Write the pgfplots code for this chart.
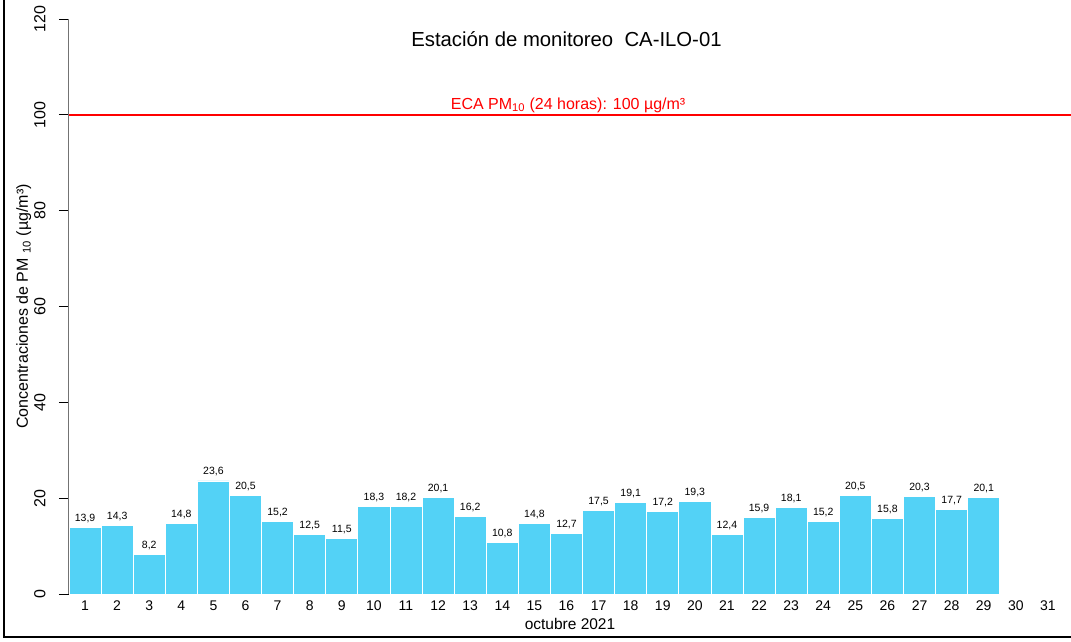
\documentclass[border=0pt]{standalone}
\usepackage{fontspec}
\setmainfont{Liberation Sans}
\usepackage{pgfplots}
\pgfplotsset{compat=1.18}
\definecolor{barblue}{RGB}{83,210,246}
\begin{document}
\begin{tikzpicture}[x=1pt,y=1pt]
\useasboundingbox (0,0) rectangle (1071,641);
\draw[line width=2.5pt] (4,650) -- (4,4) -- (1080,4);
\begin{axis}[
 at={(69pt,47pt)}, anchor=south west,
 scale only axis, width=1002pt, height=575pt,
 xmin=0.5, xmax=31.72, ymin=0, ymax=120,
 axis x line*=bottom, axis y line*=left,
 x axis line style={draw=none}, y axis line style={gray!90!black, line width=1pt, -},
 axis on top,
 xtick={1,...,31}, xtick style={draw=none},
 ytick={0,20,...,120}, ytick style={black, line width=0.8pt},
 major tick length=10pt, tick align=outside,
 yticklabel shift=10pt, xticklabel shift=-7pt,
 /pgf/number format/assume math mode=true,
 yticklabel style={rotate=90, anchor=south, font=\fontsize{16}{16}\selectfont},
 xticklabel style={font=\fontsize{14}{14}\selectfont},
 xlabel={octubre 2021}, xlabel style={font=\fontsize{15.5}{15.5}\selectfont, yshift=-1pt},
 ylabel={Concentraciones de PM \textsubscript{10} (µg/m³)},
 ylabel style={font=\fontsize{16}{16}\selectfont, yshift=-4pt},
 ybar, bar width=1,
 clip=false,
]
\addplot[fill=barblue, draw=white, line width=0.8pt,
 nodes near coords,
 nodes near coords style={/pgf/number format/use comma, /pgf/number format/fixed, /pgf/number format/fixed zerofill, /pgf/number format/precision=1},
 every node near coord/.append style={font=\fontsize{10.5}{10.5}\selectfont, black, yshift=1pt}]
 coordinates {(1,13.9) (2,14.3) (3,8.2) (4,14.8) (5,23.6) (6,20.5) (7,15.2) (8,12.5) (9,11.5) (10,18.3)
 (11,18.2) (12,20.1) (13,16.2) (14,10.8) (15,14.8) (16,12.7) (17,17.5) (18,19.1) (19,17.2) (20,19.3)
 (21,12.4) (22,15.9) (23,18.1) (24,15.2) (25,20.5) (26,15.8) (27,20.3) (28,17.7) (29,20.1)};
\addplot[sharp plot, red, line width=1.5pt] coordinates {(0.5,100) (31.72,100)};
\node[font=\fontsize{20.3}{20.3}\selectfont] at (axis cs:16,115.7) {Estación de monitoreo\ \ CA-ILO-01};
\node[red, anchor=south, inner sep=2pt, font=\fontsize{16}{16}\selectfont] at (axis cs:16.05,100) {ECA PM\textsubscript{10} (24 horas): 100 µg/m³};
\end{axis}
\end{tikzpicture}
\end{document}
